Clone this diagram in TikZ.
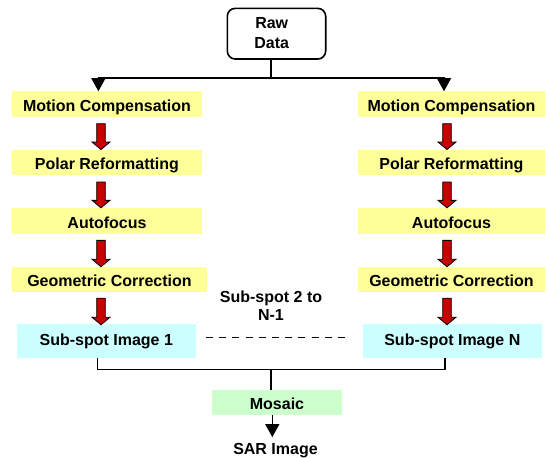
\documentclass[tikz,border=0pt]{standalone}
\usepackage{fontspec}
\setmainfont{Liberation Sans}
\usetikzlibrary{arrows.meta,calc}
\definecolor{boxyellow}{HTML}{FFFF99}
\definecolor{boxcyan}{HTML}{CCFFFF}
\definecolor{boxgreen}{HTML}{CCFFCC}
\definecolor{arrred}{HTML}{C80000}
\newcommand{\blockarrow}[2]{%
  \filldraw[fill=arrred, draw=black, line width=0.8pt, line join=miter]
    let \p1=(#1), \p2=(#2) in
    (\x1-4.3pt,\y1) -- (\x1+4.3pt,\y1) -- (\x1+4.3pt,\y2+7.5pt) -- (\x1+9pt,\y2+7.5pt)
    -- (\x1,\y2) -- (\x1-9pt,\y2+7.5pt) -- (\x1-4.3pt,\y2+7.5pt) -- cycle;}
\begin{document}
\begin{tikzpicture}[x=1pt,y=-1pt,
  font=\fontsize{16}{18}\selectfont\bfseries,
  stepbox/.style={inner sep=0pt, minimum height=25.5pt, fill=boxyellow, text height=14.5pt, text depth=0pt},
  leftbox/.style={stepbox, minimum width=190pt},
  rightbox/.style={stepbox, minimum width=187pt},
  subbox/.style={inner sep=0pt, minimum height=33.7pt, fill=boxcyan, text height=8.4pt, text depth=0pt},
  conn/.style={line width=1.2pt, draw=black},
  tri/.style={-{Triangle[width=14pt,length=13pt]}}]
\useasboundingbox (0,0) rectangle (545,457);

% raw data
\node[draw, line width=1.6pt, rounded corners=8pt, minimum width=98.4pt, minimum height=50.7pt, inner sep=0pt] (raw) at (276.5,33.7) {};
\node[align=center, font=\fontsize{16}{20}\selectfont\bfseries, inner sep=0pt, anchor=base] (rawtxt) at (271.7,48.3) {Raw\\Data};

% left column
\node[leftbox] (mc1) at (107,104.2) {Motion Compensation};
\node[leftbox] (pr1) at (107,162.5) {Polar Reformatting};
\node[leftbox] (af1) at (107,220.8) {Autofocus};
\node[stepbox, minimum width=195pt] (gc1) at (109.5,279.7) {Geometric Correction};
\node[subbox, minimum width=179.3pt] (ss1) at (106.3,340.8) {Sub-spot Image 1};

% right column
\node[rightbox] (mcN) at (451.5,104.2) {Motion Compensation};
\node[rightbox] (prN) at (451.5,162.5) {Polar Reformatting};
\node[rightbox] (afN) at (451.5,220.8) {Autofocus};
\node[rightbox] (gcN) at (451.5,279.7) {Geometric Correction};
\node[subbox, minimum width=178.7pt] (ssN) at (452.3,340.8) {Sub-spot Image N};

% middle
\node[align=center, inner sep=0pt, anchor=base] (mid) at (271,320.7) {Sub-spot 2 to\\N-1};
\node[inner sep=0pt, minimum width=129.4pt, minimum height=25pt, fill=boxgreen, text height=13.6pt, text depth=0pt] (mos) at (277,402.5) {Mosaic};
\node[anchor=base, inner sep=0pt] (sar) at (275.5,454.5) {SAR Image};

% helper coordinates
\coordinate (split) at (271,78);
\coordinate (tL) at (98.4,0);
\coordinate (tR) at (444,0);
\coordinate (rL) at (101,0);
\coordinate (rR) at (447,0);
\coordinate (bL) at (97.7,0);
\coordinate (bR) at (445,0);
\coordinate (join) at (271,369.3);
\coordinate (arrx) at (272.3,0);
\coordinate (d1) at (206,337.3);
\coordinate (d2) at (345,337.3);

% top connectors
\draw[conn] (raw.south -| split) -- (split);
\draw[conn, tri] (split) -| (mc1.north -| tL);
\draw[conn, tri] (split) -| (mcN.north -| tR);

% red block arrows
\blockarrow{$(mc1.south -| rL)+(0,6.6)$}{pr1.north -| rL}
\blockarrow{$(pr1.south -| rL)+(0,6.6)$}{af1.north -| rL}
\blockarrow{$(af1.south -| rL)+(0,6.6)$}{gc1.north -| rL}
\blockarrow{$(gc1.south -| rL)+(0,5.5)$}{$(ss1.north -| rL)+(0,1)$}
\blockarrow{$(mcN.south -| rR)+(0,6.6)$}{prN.north -| rR}
\blockarrow{$(prN.south -| rR)+(0,6.6)$}{afN.north -| rR}
\blockarrow{$(afN.south -| rR)+(0,6.6)$}{gcN.north -| rR}
\blockarrow{$(gcN.south -| rR)+(0,5.5)$}{$(ssN.north -| rR)+(0,1)$}

% dashed line
\draw[line width=1.2pt, dash pattern=on 7pt off 6.2pt] (d1) -- (d2);

% bottom connectors
\draw[conn] (ss1.south -| bL) |- (join) -| (ssN.south -| bR);
\draw[conn] (join) -- (mos.north -| join);
\draw[conn, tri] (mos.south -| arrx) -- ($(sar.north -| arrx)+(0,-6)$);
\end{tikzpicture}
\end{document}
